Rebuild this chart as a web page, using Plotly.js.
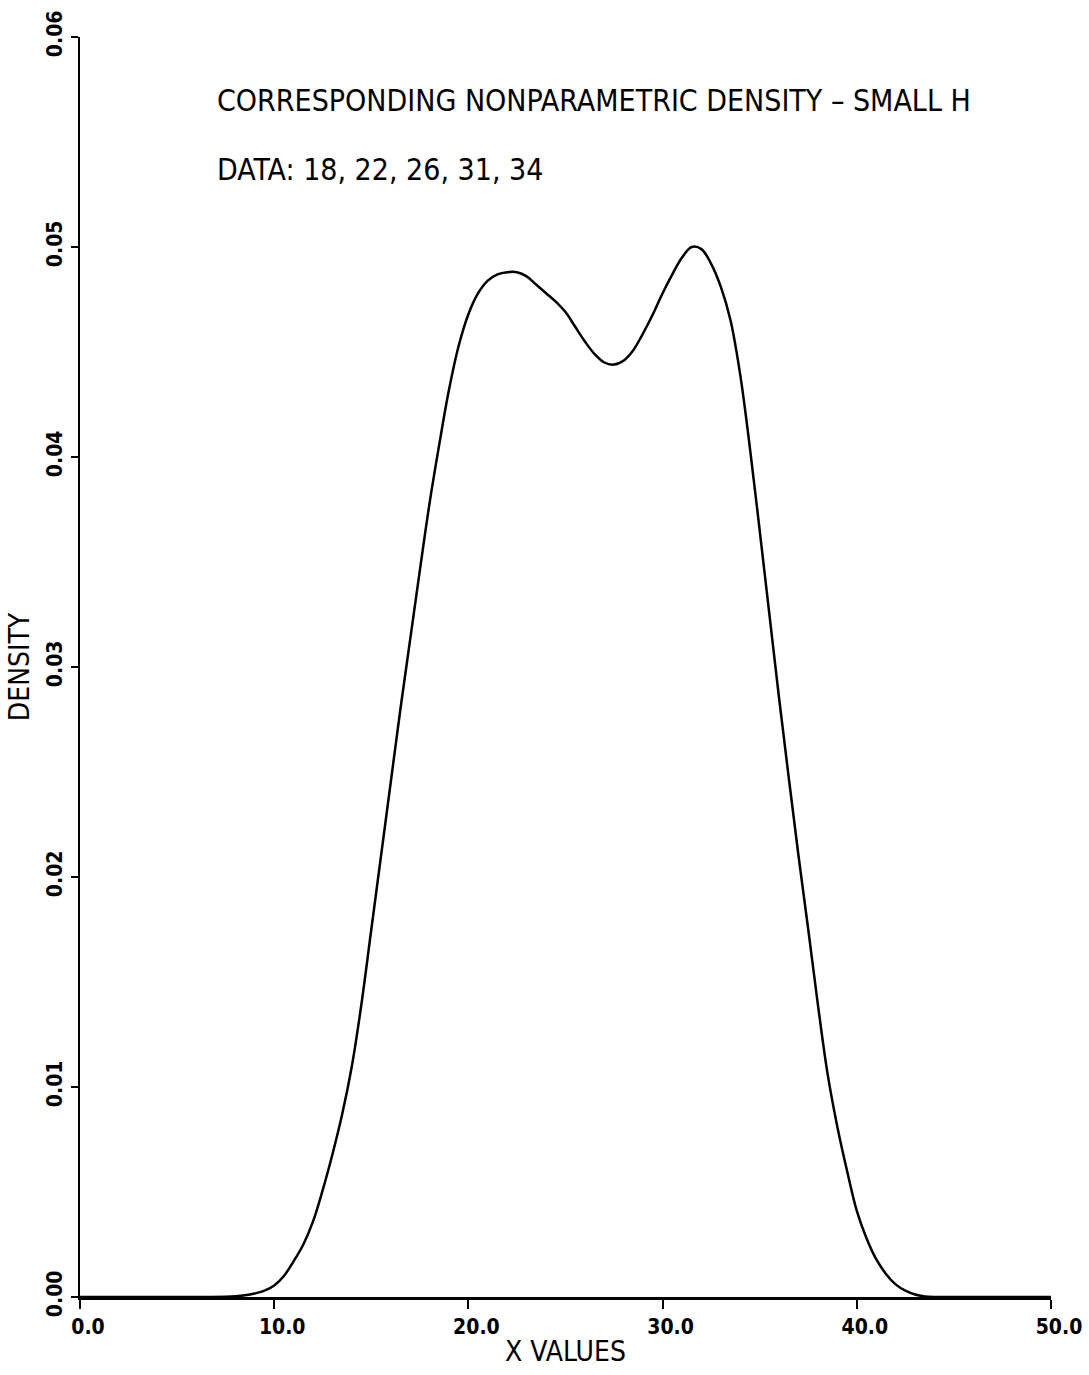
<!DOCTYPE html>
<html>
<head>
<meta charset="utf-8">
<script src="https://cdn.plot.ly/plotly-3.0.1.min.js"></script>
<style>
  html, body { margin: 0; padding: 0; background: #fff; }
  #chart { width: 1089px; height: 1375px; }
</style>
</head>
<body>
<div id="chart"></div>
<script>
// Density curve
const xValues = [0, 2, 4, 6, 7.5, 8.0, 8.5, 9.0, 9.5, 10.0, 10.5, 11.0, 11.5, 12.0, 12.5, 13.0, 13.5, 14.0, 14.5,
  15.0, 15.5, 16.0, 16.5, 17.0, 17.5, 18.0, 18.5, 19.0, 19.5, 20.0, 20.5, 21.0, 21.5, 22.0, 22.5, 23.0, 23.5,
  24.0, 24.5, 25.0, 25.5, 26.0, 26.5, 27.0, 27.5, 28.0, 28.5, 29.0, 29.5, 30.0, 30.5, 31.0, 31.5, 32.0, 32.5,
  33.0, 33.5, 34.0, 34.5, 35.0, 35.5, 36.0, 36.5, 37.0, 37.5, 38.0, 38.5, 39.0, 39.5, 40.0, 40.5, 41.0, 41.5,
  42.0, 42.5, 43.0, 43.5, 44.0, 46, 48, 50];
const densityValues = [0, 0, 0, 0, 0.00001, 0.00003, 0.00008, 0.00017, 0.0003, 0.00055, 0.0010, 0.0017, 0.0025, 0.0036, 0.0051, 0.0068, 0.0087, 0.0110, 0.0140,
  0.0175, 0.0210, 0.0245, 0.0280, 0.0313, 0.0346, 0.0378, 0.0406, 0.0432, 0.0453, 0.0468, 0.0478, 0.0484, 0.0487, 0.0488, 0.0488, 0.0486, 0.0482,
  0.0478, 0.0474, 0.0469, 0.0462, 0.0455, 0.0449, 0.0445, 0.0444, 0.0446, 0.0451, 0.0459, 0.0468, 0.0478, 0.0487, 0.0495, 0.0500, 0.0499, 0.0492,
  0.0481, 0.0465, 0.0439, 0.0404, 0.0365, 0.0325, 0.0285, 0.0247, 0.0210, 0.0175, 0.0139, 0.0106, 0.0081, 0.0060, 0.0041, 0.0028, 0.0018, 0.0011,
  0.0006, 0.0003, 0.00012, 0.00003, 0, 0, 0, 0];

const xTicks = [0, 10, 20, 30, 40, 50];
const xTickLabels = ["0.0", "10.0", "20.0", "30.0", "40.0", "50.0"];
const yTicks = [0, 0.01, 0.02, 0.03, 0.04, 0.05, 0.06];
const yTickLabels = ["0.00", "0.01", "0.02", "0.03", "0.04", "0.05", "0.06"];

const titleLine1 = "CORRESPONDING NONPARAMETRIC DENSITY \u2013 SMALL H";
const titleLine2 = "DATA: 18, 22, 26, 31, 34";

const FONT = '"DejaVu Sans Condensed", "Liberation Sans Narrow", sans-serif';

const trace = {
  x: xValues,
  y: densityValues,
  type: 'scatter',
  mode: 'lines',
  line: { color: '#000', width: 2.5, shape: 'spline', smoothing: 1 },
  hoverinfo: 'skip',
  showlegend: false
};

const layout = {
  width: 1089,
  height: 1375,
  margin: { l: 80, r: 38, t: 37, b: 78 },
  paper_bgcolor: '#fff',
  plot_bgcolor: '#fff',
  showlegend: false,
  font: { family: FONT, color: '#000' },
  xaxis: {
    range: [0, 50],
    tickvals: xTicks,
    ticktext: xTickLabels,
    ticks: 'outside',
    ticklen: 9,
    tickwidth: 2,
    tickcolor: '#000',
    showline: true,
    linecolor: '#000',
    linewidth: 2.5,
    showgrid: false,
    zeroline: false,
    ticklabelshift: 8,
    tickfont: { family: FONT, size: 21, color: '#000', weight: 'bold' },
    title: { text: 'X VALUES', font: { family: FONT, size: 28, color: '#000' }, standoff: 4 }
  },
  yaxis: {
    range: [0, 0.06],
    tickvals: yTicks,
    ticktext: yTickLabels,
    tickangle: -90,
    ticks: 'outside',
    ticklen: 7,
    tickwidth: 2,
    tickcolor: '#000',
    showline: true,
    linecolor: '#000',
    linewidth: 2.5,
    showgrid: false,
    zeroline: false,
    tickfont: { family: FONT, size: 21, color: '#000', weight: 'bold' },
    title: { text: 'DENSITY', font: { family: FONT, size: 28, color: '#000' }, standoff: 6 }
  },
  annotations: [
    {
      text: titleLine1, xref: 'paper', yref: 'paper',
      x: (215 - 80) / 971, y: (1297 - 100) / 1260,
      xanchor: 'left', yanchor: 'middle', showarrow: false,
      font: { family: FONT, size: 30, color: '#000' }
    },
    {
      text: titleLine2, xref: 'paper', yref: 'paper',
      x: (215 - 80) / 971, y: (1297 - 170) / 1260,
      xanchor: 'left', yanchor: 'middle', showarrow: false,
      font: { family: FONT, size: 30, color: '#000' }
    }
  ]
};

Plotly.newPlot('chart', [trace], layout, { displayModeBar: false, staticPlot: true });
</script>
</body>
</html>
